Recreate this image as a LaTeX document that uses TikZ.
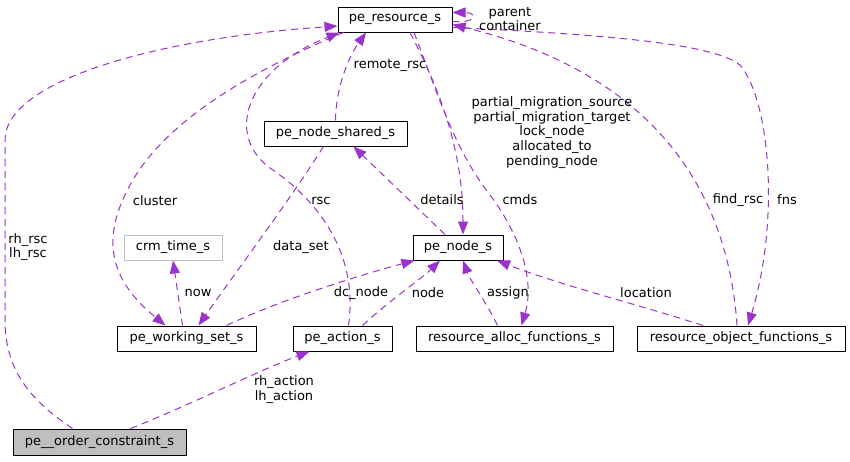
\documentclass[tikz,border=0pt]{standalone}
\usepackage{fontspec}
\setmainfont{DejaVu Sans}
\usetikzlibrary{arrows.meta,calc}
\definecolor{edgec}{HTML}{9A32CD}
\definecolor{greyc}{HTML}{BFBFBF}
\begin{document}
\begin{tikzpicture}[x=1pt,y=-1pt,
  box/.style={draw=black, line width=1pt, minimum height=25pt, inner sep=0pt, font=\fontsize{13}{15}\selectfont},
  lbl/.style={align=center, inner sep=0pt, font=\fontsize{13}{14.7}\selectfont},
  edge/.style={draw=edgec, dash pattern=on 7pt off 5pt, line width=1pt, -{Triangle[length=13pt,width=10pt]}}]
\useasboundingbox (0,0) rectangle (850,461);
% nodes
\node[box, minimum width=114pt] (pr) at (395,19.5) {pe\_resource\_s};
\node[box, minimum width=143pt] (pns) at (335.5,133.5) {pe\_node\_shared\_s};
\node[box, draw=greyc, minimum width=98pt] (crm) at (173,247.5) {crm\_time\_s};
\node[box, minimum width=90pt] (pn) at (458,247.5) {pe\_node\_s};
\node[box, minimum width=139pt] (pws) at (186.5,338.5) {pe\_working\_set\_s};
\node[box, minimum width=99pt] (pa) at (342.5,338.5) {pe\_action\_s};
\node[box, minimum width=197pt] (raf) at (514.5,338.5) {resource\_alloc\_functions\_s};
\node[box, minimum width=208pt] (rof) at (741,338.5) {resource\_object\_functions\_s};
\node[box, fill=greyc, minimum width=173pt, minimum height=26pt] (poc) at (99.5,442) {pe\_\_order\_constraint\_s};
% edges
\draw[edge] ($(poc.north)+(-27,0)$) .. controls (30,400) and (5,370) .. (5,320) -- (5,140) .. controls (5,80) and (160,38) .. ($(pr.west)+(0,6.5)$);
\draw[edge] ($(poc.north)+(31,0)$) .. controls (190,405) and (260,370) .. ($(pa.south)+(-33,0)$);
\draw[edge] ($(pr.south west)+(6,0)$) .. controls (230,80) and (160,130) .. (130,185) .. controls (100,240) and (110,280) .. ($(pws.north)+(-21,0)$);
\draw[edge] ($(pa.north)+(6,0)$) .. controls (358,260) and (325,205) .. (270,168) .. controls (225,135) and (245,70) .. ($(pr.south west)+(2,0)$);
\draw[edge] (pns.north) .. controls (336,85) and (350,55) .. ($(pr.south)+(-29,0)$);
\draw[edge] ($(pws.north)+(-4,0)$) -- (crm.south);
\draw[edge] ($(pns.south)+(-12,0)$) .. controls (290,200) and (230,280) .. ($(pws.north)+(12,0)$);
\draw[edge] ($(pws.north)+(40,0)$) .. controls (280,300) and (360,275) .. ($(pn.south west)+(2,0)$);
\draw[edge] ($(pa.north)+(20,0)$) .. controls (390,300) and (420,280) .. ($(pn.south)+(-18,0)$);
\draw[edge] ($(pn.north)+(-13,0)$) -- ($(pns.south)+(18,0)$);
\draw[edge] ($(pr.south)+(15,0)$) .. controls (440,90) and (463,150) .. ($(pn.north)+(5,0)$);
\draw[edge] ($(pr.south)+(19,0)$) .. controls (440,100) and (455,150) .. (490,195) .. controls (520,235) and (535,280) .. ($(raf.north)+(7,0)$);
\draw[edge] ($(raf.north)+(-17,0)$) .. controls (485,300) and (470,280) .. ($(pn.south)+(5,0)$);
\draw[edge] ($(rof.north)+(-38,0)$) .. controls (640,305) and (560,285) .. ($(pn.south)+(39,0)$);
\draw[edge] ($(rof.north)+(-4,0)$) .. controls (730,220) and (680,80) .. ($(pr.east)+(0,5)$);
\draw[edge] ($(pr.east)+(0,8)$) .. controls (620,35) and (715,45) .. (740,65) .. controls (770,100) and (780,220) .. ($(rof.north)+(7,0)$);
\draw[edge] ($(pr.east)+(0,2)$) .. controls +(25,2) and +(25,0) .. ($(pr.east)+(0,-7)$);
% labels
\node[lbl] (l1) at (28,247) {rh\_rsc\\lh\_rsc};
\node[lbl] (l2) at (284,389.5) {rh\_action\\lh\_action};
\node[lbl] (l3) at (155,201) {cluster};
\node[lbl] (l4) at (321,201) {rsc};
\node[lbl] (l5) at (390,65) {remote\_rsc};
\node[lbl] (l6) at (301,247) {data\_set};
\node[lbl] (l7) at (198,293) {now};
\node[lbl] (l8) at (361,293) {dc\_node};
\node[lbl] (l9) at (428,293) {node};
\node[lbl] (l10) at (442,200) {details};
\node[lbl] (l11) at (552,132.5) {partial\_migration\_source\\partial\_migration\_target\\lock\_node\\allocated\_to\\pending\_node};
\node[lbl] (l12) at (520,200) {cmds};
\node[lbl] (l13) at (508,293) {assign};
\node[lbl] (l14) at (646,293) {location};
\node[lbl] (l15) at (738,200) {find\_rsc};
\node[lbl] (l16) at (787,200) {fns};
\node[lbl] (l17) at (510,19) {parent\\container};
\end{tikzpicture}
\end{document}
